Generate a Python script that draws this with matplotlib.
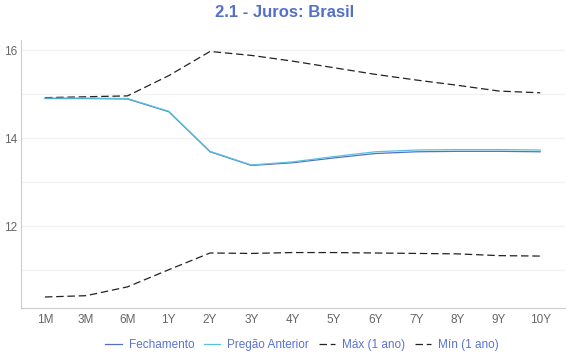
import matplotlib.pyplot as plt

plt.rcParams['font.family'] = ['Liberation Sans', 'DejaVu Sans']

# --- Dados ---
vertices = ['1M', '3M', '6M', '1Y', '2Y', '3Y', '4Y', '5Y', '6Y', '7Y', '8Y', '9Y', '10Y']
fechamento = [14.90, 14.90, 14.89, 14.60, 13.69, 13.38, 13.44, 13.55, 13.65, 13.69, 13.70, 13.70, 13.69]
pregao_anterior = [14.91, 14.91, 14.90, 14.61, 13.70, 13.39, 13.46, 13.58, 13.69, 13.73, 13.74, 13.74, 13.73]
maximo = [14.92, 14.94, 14.96, 15.42, 15.97, 15.88, 15.75, 15.60, 15.45, 15.32, 15.20, 15.07, 15.03]
minimo = [10.39, 10.42, 10.62, 11.01, 11.39, 11.38, 11.40, 11.40, 11.39, 11.38, 11.37, 11.33, 11.32]

azul = '#5470c6'
ciano = '#5bc0de'

fig = plt.figure(figsize=(5.7, 3.6), dpi=100)
ax = fig.add_axes([21/570, 52/360, 544/570, 268/360])

x = range(len(vertices))
ax.plot(x, fechamento, color=azul, lw=0.9, label='Fechamento', zorder=2)
ax.plot(x, pregao_anterior, color=ciano, lw=0.9, label='Pregão Anterior', zorder=3)
ax.plot(x, maximo, color='#222222', lw=0.9, ls=(0, (6, 3)), label='Máx (1 ano)')
ax.plot(x, minimo, color='#222222', lw=0.9, ls=(0, (6, 3)), label='Mín (1 ano)')

ax.set_xlim(-0.58, 12.6)
ax.set_ylim(10.14, 16.23)
ax.set_xticks(list(x))
ax.set_xticklabels(vertices)
ax.set_yticks([11, 12, 13, 14, 15, 16])
ax.set_yticklabels(['', '12', '', '14', '', '16'])
ax.grid(axis='y', color='#f2f2f2', lw=1)
ax.set_axisbelow(True)
ax.tick_params(length=0, labelsize=8.5, colors='#666666', pad=4)
ax.tick_params(axis='y', pad=3)
for s in ['top', 'right']:
    ax.spines[s].set_visible(False)
for s in ['left', 'bottom']:
    ax.spines[s].set_color('#cccccc')

fig.suptitle('2.1 - Juros: Brasil', y=0.985, fontsize=12, fontweight='bold', color=azul)

leg = fig.legend(loc='lower center', bbox_to_anchor=(0.53, -0.005), ncol=4, frameon=False,
                 fontsize=8.5, handlelength=1.4, handletextpad=0.6, columnspacing=0.8)
for t in leg.get_texts():
    t.set_color('#5a73d4')

fig.savefig('out.png', dpi=100)
